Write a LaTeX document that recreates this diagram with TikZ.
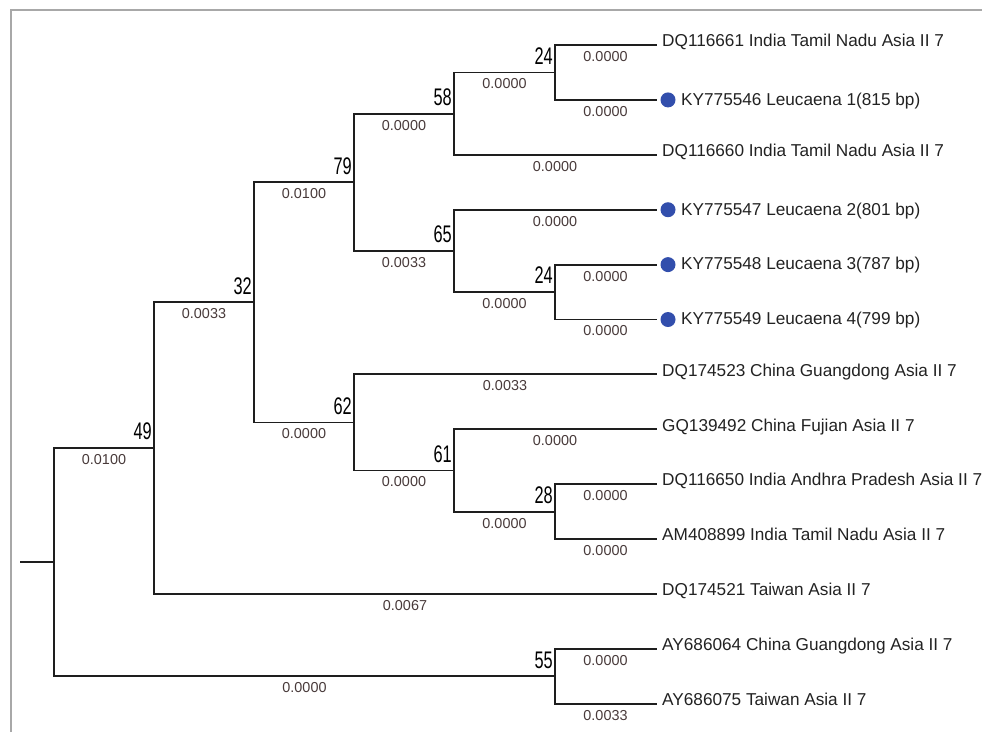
\documentclass[tikz,border=0pt]{standalone}
\usepackage{fontspec}
\usepackage{graphicx}
\setmainfont{Liberation Sans}
\definecolor{framegray}{RGB}{168,168,168}
\definecolor{treeline}{RGB}{30,30,30}
\definecolor{blencol}{RGB}{72,58,58}
\definecolor{leafcol}{RGB}{34,34,34}
\definecolor{dotblue}{RGB}{50,78,172}
\newcommand{\bsv}[1]{\scalebox{0.68}[1]{#1}}
\tikzset{
  branch/.style={draw=treeline, line width=1.9pt, line cap=rect},
  blen/.style={font=\fontsize{14.4}{14.4}\selectfont, text=blencol, inner sep=0pt, anchor=center, yshift=-11.5pt},
  boot/.style={font=\fontsize{24}{24}\selectfont, text=black, inner sep=0pt, anchor=east, xshift=-2pt, yshift=16.5pt},
  leaf/.style={font=\fontsize{17.2}{17.2}\selectfont, text=leafcol, inner sep=0pt, anchor=base west, xshift=6pt, yshift=-1.7pt},
  leafb/.style={font=\fontsize{17.2}{17.2}\selectfont, text=leafcol, inner sep=0pt, anchor=base west, xshift=25pt, yshift=-5.3pt},
  bluedot/.style={circle, fill=dotblue, draw=none, minimum size=15pt, inner sep=0pt, xshift=12pt},
  framerule/.style={draw=framegray, line width=1.2pt}
}
\begin{document}
\begin{tikzpicture}[x=1pt,y=-1pt]
\useasboundingbox (0,0) rectangle (982,732);
% frame
\coordinate (fa) at (11,732);
\coordinate (fb) at (11,10);
\coordinate (fc) at (982,10);
\draw[framerule] (fa) -- (fb) -- (fc);
% leaves
\coordinate (L1) at (656,45);
\coordinate (L2) at (656,99.9);
\coordinate (L3) at (656,154.8);
\coordinate (L4) at (656,209.7);
\coordinate (L5) at (656,264.6);
\coordinate (L6) at (656,319.5);
\coordinate (L7) at (656,374.4);
\coordinate (L8) at (656,429.3);
\coordinate (L9) at (656,484.2);
\coordinate (L10) at (656,539.1);
\coordinate (L11) at (656,594);
\coordinate (L12) at (656,648.9);
\coordinate (L13) at (656,703.8);
% internal nodes
\coordinate (n24a) at (555,72.45);
\coordinate (n58) at (454,113.63);
\coordinate (n24b) at (555,292.05);
\coordinate (n65) at (454,250.88);
\coordinate (n79) at (354,182.25);
\coordinate (n28) at (555,511.65);
\coordinate (n61) at (454,470.48);
\coordinate (n62) at (354,422.44);
\coordinate (n32) at (254,302.34);
\coordinate (n49) at (154,448.17);
\coordinate (n55) at (555,676.35);
\coordinate (root) at (54,562.26);
\coordinate (stub) at (21,562.26);
% root stub
\draw[branch] (stub) -- (root);
% edges with branch lengths
\draw[branch] (root) |- (n49) node[blen, pos=0.75] (e49) {0.0100};
\draw[branch] (root) |- (n55) node[blen, pos=0.75] (e55) {0.0000};
\draw[branch] (n49) |- (n32) node[blen, pos=0.75] (e32) {0.0033};
\draw[branch] (n49) |- (L11) node[blen, pos=0.75] (e11) {0.0067};
\draw[branch] (n32) |- (n79) node[blen, pos=0.75] (e79) {0.0100};
\draw[branch] (n32) |- (n62) node[blen, pos=0.75] (e62) {0.0000};
\draw[branch] (n79) |- (n58) node[blen, pos=0.75] (e58) {0.0000};
\draw[branch] (n79) |- (n65) node[blen, pos=0.75] (e65) {0.0033};
\draw[branch] (n58) |- (n24a) node[blen, pos=0.75] (e24a) {0.0000};
\draw[branch] (n58) |- (L3) node[blen, pos=0.75] (e3) {0.0000};
\draw[branch] (n24a) |- (L1) node[blen, pos=0.75] (e1) {0.0000};
\draw[branch] (n24a) |- (L2) node[blen, pos=0.75] (e2) {0.0000};
\draw[branch] (n65) |- (L4) node[blen, pos=0.75] (e4) {0.0000};
\draw[branch] (n65) |- (n24b) node[blen, pos=0.75] (e24b) {0.0000};
\draw[branch] (n24b) |- (L5) node[blen, pos=0.75] (e5) {0.0000};
\draw[branch] (n24b) |- (L6) node[blen, pos=0.75] (e6) {0.0000};
\draw[branch] (n62) |- (L7) node[blen, pos=0.75] (e7) {0.0033};
\draw[branch] (n62) |- (n61) node[blen, pos=0.75] (e61) {0.0000};
\draw[branch] (n61) |- (L8) node[blen, pos=0.75] (e8) {0.0000};
\draw[branch] (n61) |- (n28) node[blen, pos=0.75] (e28) {0.0000};
\draw[branch] (n28) |- (L9) node[blen, pos=0.75] (e9) {0.0000};
\draw[branch] (n28) |- (L10) node[blen, pos=0.75] (e10) {0.0000};
\draw[branch] (n55) |- (L12) node[blen, pos=0.75] (e12) {0.0000};
\draw[branch] (n55) |- (L13) node[blen, pos=0.75] (e13) {0.0033};
% bootstrap values
\node[boot] (b24a) at (n24a) {\bsv{24}};
\node[boot] (b58) at (n58) {\bsv{58}};
\node[boot] (b79) at (n79) {\bsv{79}};
\node[boot] (b65) at (n65) {\bsv{65}};
\node[boot] (b24b) at (n24b) {\bsv{24}};
\node[boot] (b32) at (n32) {\bsv{32}};
\node[boot] (b62) at (n62) {\bsv{62}};
\node[boot] (b61) at (n61) {\bsv{61}};
\node[boot] (b28) at (n28) {\bsv{28}};
\node[boot] (b49) at (n49) {\bsv{49}};
\node[boot] (b55) at (n55) {\bsv{55}};
% blue markers
\node[bluedot] (d2) at (L2) {};
\node[bluedot] (d4) at (L4) {};
\node[bluedot] (d5) at (L5) {};
\node[bluedot] (d6) at (L6) {};
% leaf labels
\node[leaf] (t1) at (L1) {DQ116661 India Tamil Nadu Asia II 7};
\node[leafb] (t2) at (L2) {KY775546 Leucaena 1(815 bp)};
\node[leaf] (t3) at (L3) {DQ116660 India Tamil Nadu Asia II 7};
\node[leafb] (t4) at (L4) {KY775547 Leucaena 2(801 bp)};
\node[leafb] (t5) at (L5) {KY775548 Leucaena 3(787 bp)};
\node[leafb] (t6) at (L6) {KY775549 Leucaena 4(799 bp)};
\node[leaf] (t7) at (L7) {DQ174523 China Guangdong Asia II 7};
\node[leaf] (t8) at (L8) {GQ139492 China Fujian Asia II 7};
\node[leaf] (t9) at (L9) {DQ116650 India Andhra Pradesh Asia II 7};
\node[leaf] (t10) at (L10) {AM408899 India Tamil Nadu Asia II 7};
\node[leaf] (t11) at (L11) {DQ174521 Taiwan Asia II 7};
\node[leaf] (t12) at (L12) {AY686064 China Guangdong Asia II 7};
\node[leaf] (t13) at (L13) {AY686075 Taiwan Asia II 7};
\end{tikzpicture}
\end{document}
